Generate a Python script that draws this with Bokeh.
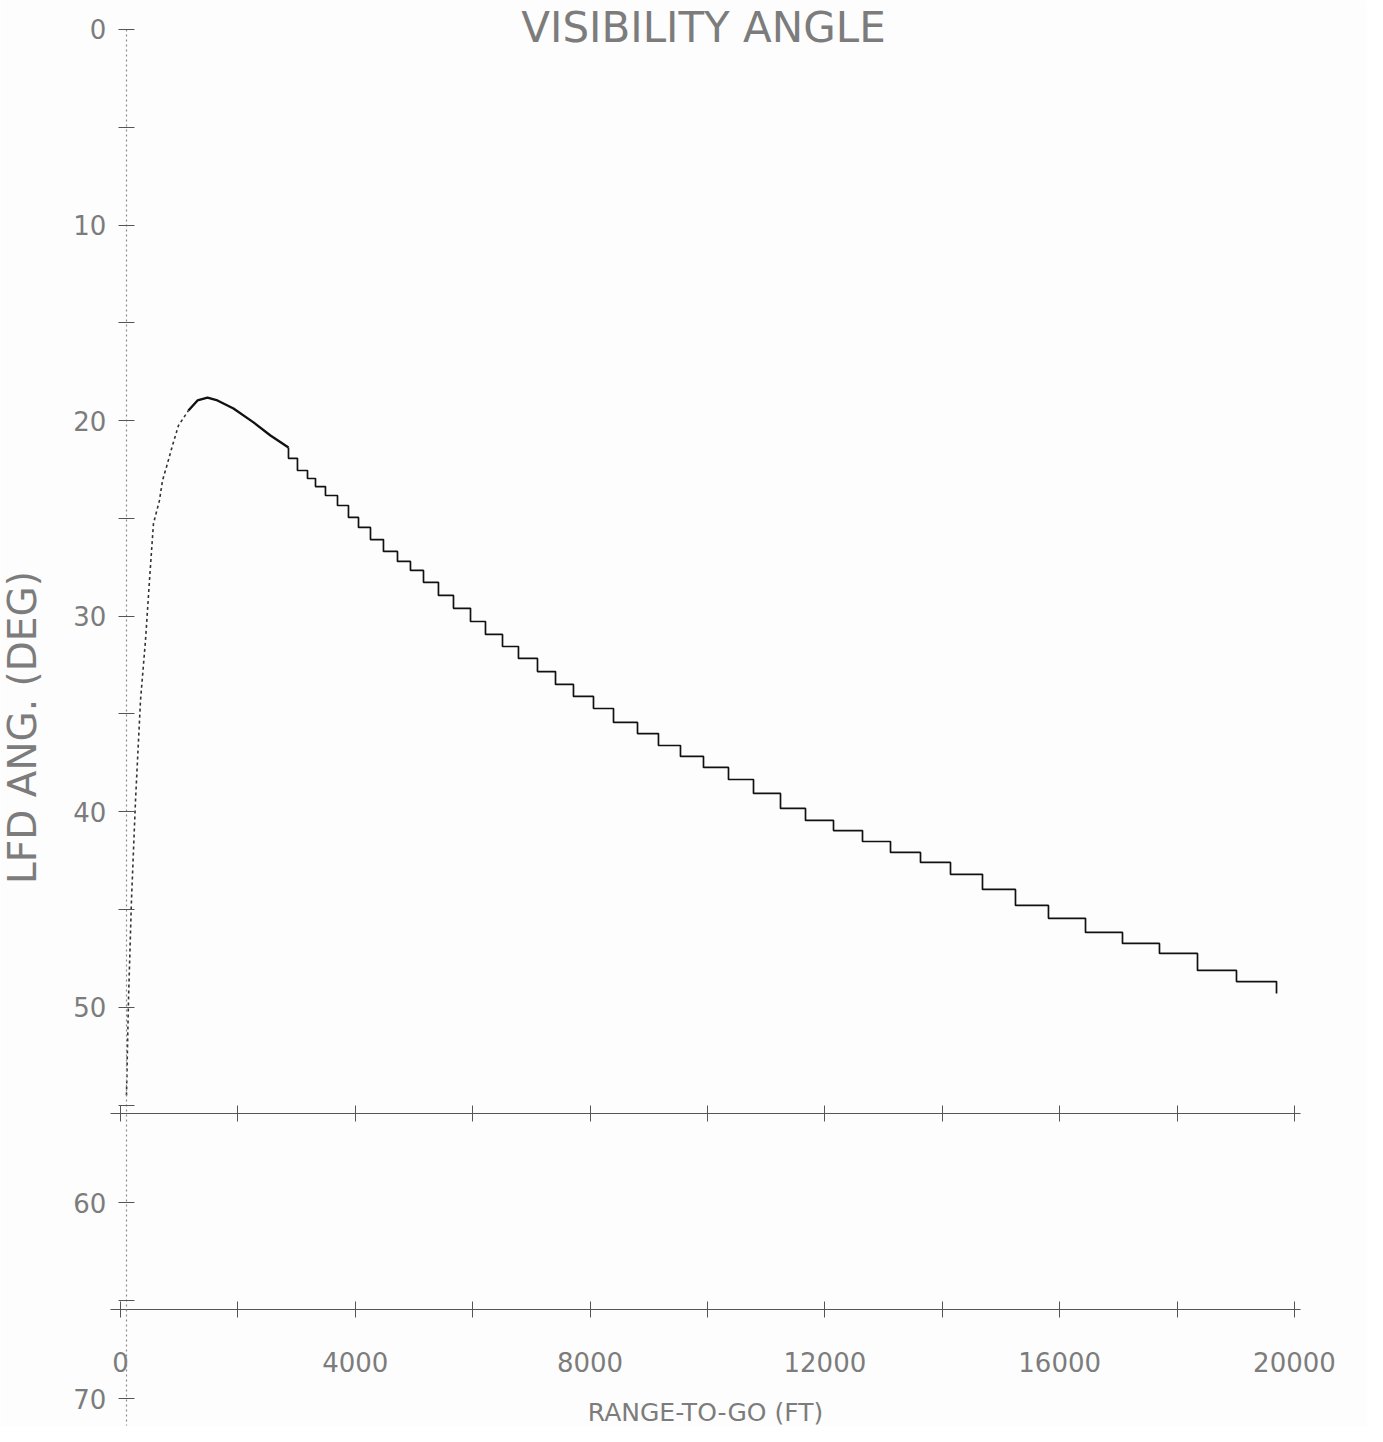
from bokeh.plotting import figure
from bokeh.models import Range1d, LinearAxis, FixedTicker, Label
from bokeh.embed import file_html
from bokeh.resources import INLINE

# ---- texts ----
title_text = "VISIBILITY ANGLE"
x_label = "RANGE-TO-GO (FT)"
y_label = "LFD ANG. (DEG)"

# ---- ticks ----
x_major = [0, 4000, 8000, 12000, 16000, 20000]
x_minor = [2000, 6000, 10000, 14000, 18000]
y_major = [0, 10, 20, 30, 40, 50, 60, 70]
y_minor = [5, 15, 25, 35, 45, 55, 65]

# ---- data (range-to-go ft, LFD angle deg) ----
rise_x = [102, 136, 187, 256, 341, 426, 494, 562, 664, 716, 801, 886, 988, 1158]
rise_y = [54.5, 49.65, 44.53, 39.42, 34.31, 31.24, 28.17, 25.26, 24.08, 23.06, 22.19, 21.27, 20.25, 19.48]

peak_x = [1158, 1312, 1482, 1652, 1925, 2266, 2555, 2811, 2862]
peak_y = [19.48, 18.97, 18.82, 18.97, 19.38, 20.09, 20.76, 21.27, 21.37]

step_x = [2862, 2862, 3015, 3186, 3322, 3492, 3697, 3884, 4055, 4259, 4480, 4719, 4940,
          5162, 5417, 5673, 5963, 6218, 6508, 6780, 7104, 7411, 7717, 8058, 8399, 8808,
          9165, 9540, 9932, 10358, 10784, 11244, 11670, 12147, 12641, 13118, 13629, 14140,
          14685, 15247, 15809, 16440, 17070, 17700, 18348, 19012, 19694]
step_y = [21.37, 21.93, 22.55, 22.96, 23.37, 23.83, 24.34, 24.95, 25.46, 26.08, 26.69, 27.20,
          27.66, 28.27, 28.94, 29.60, 30.27, 30.93, 31.55, 32.16, 32.83, 33.49, 34.10, 34.72,
          35.43, 36.00, 36.61, 37.17, 37.73, 38.35, 39.06, 39.83, 40.44, 40.96, 41.52, 42.08,
          42.59, 43.20, 43.97, 44.79, 45.45, 46.17, 46.73, 47.24, 48.11, 48.68, 49.29]

# reference lines (axes) positions in degrees
upper_axis_deg = 55.45
lower_axis_deg = 65.45

FONT = "DejaVu Sans"
TXT = "#7c7c7c"

p = figure(width=1367, height=1426, output_backend="svg", toolbar_location=None,
           x_range=Range1d(-2044, 21244), y_range=Range1d(71.43, -1.48),
           x_axis_location=None, y_axis_location=None,
           min_border_left=0, min_border_right=0, min_border_top=0, min_border_bottom=0)
p.outline_line_color = None
p.grid.visible = False
p.background_fill_color = "#fdfdfd"
p.border_fill_color = "#fdfdfd"

# y axis
yaxis = LinearAxis(fixed_location=100, ticker=FixedTicker(ticks=y_major, minor_ticks=y_minor),
                   bounds=(0, 71.4), axis_label=y_label)
yaxis.axis_line_color = "#8a8a8a"
yaxis.axis_line_dash = "2 3"
yaxis.axis_line_width = 1.2
yaxis.major_tick_in = 8
yaxis.major_tick_out = 8
yaxis.minor_tick_in = 8
yaxis.minor_tick_out = 8
yaxis.major_tick_line_color = "#555555"
yaxis.minor_tick_line_color = "#555555"
yaxis.major_label_text_font = FONT
yaxis.major_label_text_font_size = "26px"
yaxis.major_label_text_color = TXT
yaxis.major_label_standoff = 12
yaxis.axis_label_text_font = FONT
yaxis.axis_label_text_font_size = "39px"
yaxis.axis_label_text_font_style = "normal"
yaxis.axis_label_text_color = TXT
yaxis.axis_label_standoff = 25
p.add_layout(yaxis, "left")

# lower horizontal axis with labels
xaxis = LinearAxis(fixed_location=lower_axis_deg,
                   ticker=FixedTicker(ticks=x_major, minor_ticks=x_minor),
                   bounds=(-170, 20100), axis_label=x_label)
# upper horizontal line with crossing ticks only
xaxis2 = LinearAxis(fixed_location=upper_axis_deg,
                    ticker=FixedTicker(ticks=[], minor_ticks=sorted(x_major + x_minor)),
                    bounds=(-170, 20100))
for ax in (xaxis, xaxis2):
    ax.axis_line_color = "#555555"
    ax.axis_line_width = 1.2
    ax.major_tick_in = 8
    ax.major_tick_out = 8
    ax.minor_tick_in = 8
    ax.minor_tick_out = 8
    ax.major_tick_line_color = "#555555"
    ax.minor_tick_line_color = "#555555"
    ax.major_label_text_font = FONT
    ax.major_label_text_font_size = "26px"
    ax.major_label_text_color = TXT
xaxis.major_label_standoff = 34
xaxis.axis_label_text_font = FONT
xaxis.axis_label_text_font_size = "25px"
xaxis.axis_label_text_font_style = "normal"
xaxis.axis_label_text_color = TXT
xaxis.axis_label_standoff = 23
p.add_layout(xaxis, "below")
p.add_layout(xaxis2, "below")

# curve
p.line(rise_x, rise_y, line_color="#333333", line_width=1.6, line_dash="3 3")
p.line(peak_x, peak_y, line_color="#111111", line_width=2.4)
p.step(step_x, step_y, mode="after", line_color="#111111", line_width=1.7)

# title
p.add_layout(Label(x=9932, y=-0.1, text=title_text, text_align="center",
                   text_baseline="middle", text_font=FONT, text_font_size="42px",
                   text_color=TXT))

open("out.html", "w").write(file_html(p, INLINE))
